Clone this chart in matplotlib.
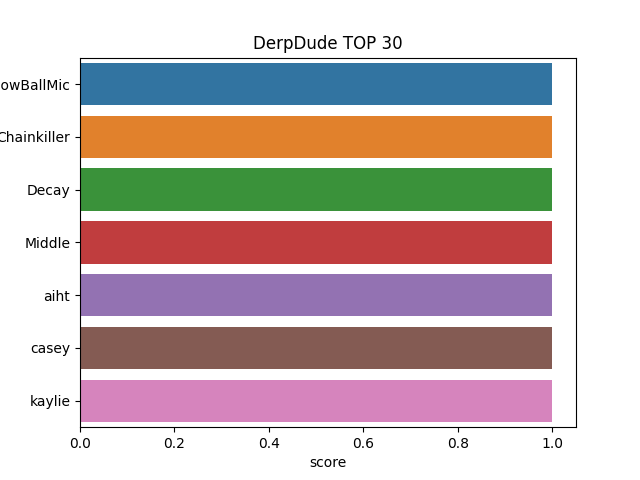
import matplotlib
matplotlib.use("Agg")
import matplotlib.pyplot as plt
import seaborn as sns

names = ["SnowBallMic", "Chainkiller", "Decay", "Middle", "aiht", "casey", "kaylie"]
scores = [1, 1, 1, 1, 1, 1, 1]

fig, ax = plt.subplots(figsize=(6.4, 4.8), dpi=100)
sns.barplot(x=scores, y=names, hue=names, ax=ax, legend=False)
ax.set_title("DerpDude TOP 30")
ax.set_xlabel("score")
fig.savefig("out.png")
